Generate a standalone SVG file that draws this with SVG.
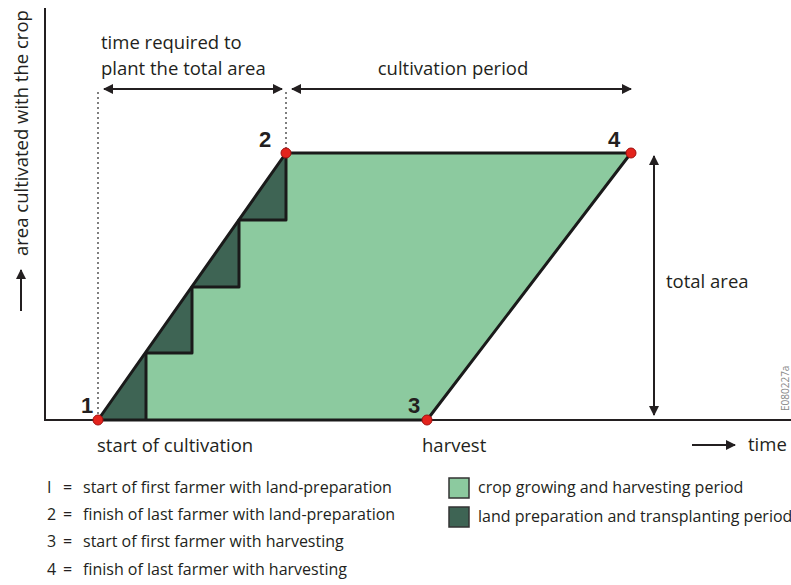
<svg xmlns="http://www.w3.org/2000/svg" width="791" height="585" viewBox="0 0 791 585">
<style>
text{font-family:"Open Sans",Lato,"Liberation Sans",sans-serif;fill:#231f20}
.t{font-size:18.5px}
.l{font-size:16px}
.num{font-family:"Liberation Sans",Arial,sans-serif;font-weight:bold;font-size:22px}
.ax{stroke:#231f20;stroke-width:2;fill:none}
.dim{stroke:#231f20;stroke-width:2;fill:none}
.dot{stroke:#555;stroke-width:1.5;stroke-dasharray:2 3;fill:none}
.light{fill:#8cca9f}
.dark{fill:#3e6454}
.edge{stroke:#1a1a1a;stroke-width:3;fill:none;stroke-linejoin:round}
.pt{fill:#e3231c;stroke:#a01010;stroke-width:1}
</style>
<defs>
<marker id="ah" viewBox="0 0 10 10" refX="9" refY="5" markerWidth="5" markerHeight="5" orient="auto-start-reverse" markerUnits="strokeWidth">
<path d="M0,0 L10,5 L0,10 z" fill="#231f20"/>
</marker>
</defs>

<g id="axes">
<line class="ax" x1="45" y1="8" x2="45" y2="421"/>
<line class="ax" x1="44" y1="420" x2="791" y2="420"/>
<text class="t" transform="translate(28,256) rotate(-90)">area cultivated with the crop</text>
<line class="dim" x1="21" y1="311" x2="21" y2="270" stroke-width="1.5" marker-end="url(#ah)"/>
<line class="dim" x1="692" y1="445" x2="735" y2="445" stroke-width="1.5" marker-end="url(#ah)"/>
<text class="t" x="748" y="451">time</text>
</g>

<g id="chart">
<polygon class="light" points="98,420 286,153 631,153 427,420"/>
<polygon class="dark" points="98,420 146,353 146,420"/>
<polygon class="dark" points="146,353 192,287 192,353"/>
<polygon class="dark" points="192,287 239,220 239,287"/>
<polygon class="dark" points="239,220 286,153 286,220"/>
<polyline class="edge" points="146,420 146,353 192,353 192,287 239,287 239,220 286,220 286,153"/>
<polygon class="edge" points="98,420 286,153 631,153 427,420"/>
</g>

<g id="connectors">
<line class="dot" x1="98" y1="92" x2="98" y2="414"/>
<line class="dot" x1="286" y1="92" x2="286" y2="150"/>
<line class="dim" x1="104" y1="89" x2="282" y2="89" marker-start="url(#ah)" marker-end="url(#ah)"/>
<line class="dim" x1="292" y1="89" x2="631" y2="89" marker-start="url(#ah)" marker-end="url(#ah)"/>
<line class="dim" x1="654" y1="156" x2="654" y2="415" marker-start="url(#ah)" marker-end="url(#ah)"/>
</g>

<g id="p1"><circle class="pt" cx="98" cy="420" r="5"/><text class="num" x="81" y="413">1</text></g>
<g id="p2"><circle class="pt" cx="286" cy="153" r="5"/><text class="num" x="259" y="147">2</text></g>
<g id="p3"><circle class="pt" cx="427" cy="420" r="5"/><text class="num" x="408" y="413">3</text></g>
<g id="p4"><circle class="pt" cx="631" cy="153" r="5"/><text class="num" x="608" y="147">4</text></g>

<g id="labels">
<text class="t" x="101" y="49">time required to</text>
<text class="t" x="101" y="75">plant the total area</text>
<text class="t" x="453" y="75" text-anchor="middle">cultivation period</text>
<text class="t" x="666" y="288">total area</text>
<text class="t" x="97" y="452">start of cultivation</text>
<text class="t" x="422" y="452">harvest</text>
<text transform="translate(789,411) rotate(-90)" style="font-size:10px;fill:#888">E080227a</text>
</g>

<g id="legend">
<text class="l" y="493"><tspan x="47">I</tspan><tspan x="63">=</tspan><tspan x="83">start of first farmer with land-preparation</tspan></text>
<text class="l" y="520"><tspan x="47">2</tspan><tspan x="63">=</tspan><tspan x="83">finish of last farmer with land-preparation</tspan></text>
<text class="l" y="547"><tspan x="47">3</tspan><tspan x="63">=</tspan><tspan x="83">start of first farmer with harvesting</tspan></text>
<text class="l" y="575"><tspan x="47">4</tspan><tspan x="63">=</tspan><tspan x="83">finish of last farmer with harvesting</tspan></text>
<rect class="light" x="449" y="478" width="20" height="20" stroke="#333" stroke-width="1.5"/>
<rect class="dark" x="449" y="507" width="20" height="20" stroke="#333" stroke-width="1.5"/>
<text class="l" x="478" y="493">crop growing and harvesting period</text>
<text class="l" x="478" y="522">land preparation and transplanting period</text>
</g>
</svg>
